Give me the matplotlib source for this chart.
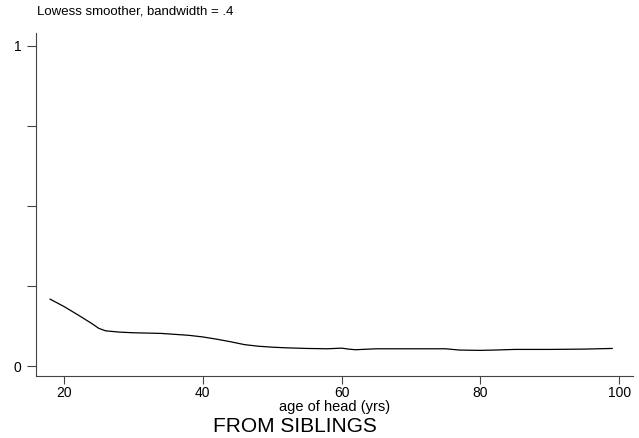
"""Lowess smoother of a share against age of household head, from siblings."""
import matplotlib
matplotlib.use("Agg")
import matplotlib.pyplot as plt

# values
age = [18, 20, 22, 24, 25, 26, 28, 30, 32, 34, 36, 38, 40, 42, 44, 46, 48, 50,
       52, 55, 58, 60, 61, 62, 63, 65, 70, 75, 77, 80, 82, 85, 90, 95, 99]
share = [0.209, 0.186, 0.160, 0.133, 0.118, 0.110, 0.106, 0.104, 0.103, 0.102,
         0.099, 0.096, 0.091, 0.084, 0.076, 0.067, 0.062, 0.059, 0.057, 0.055,
         0.054, 0.056, 0.053, 0.051, 0.052, 0.054, 0.054, 0.054, 0.050, 0.049,
         0.050, 0.052, 0.052, 0.053, 0.055]

xticks = [20, 40, 60, 80, 100]
yticks = [0, 0.25, 0.5, 0.75, 1]
ytick_labels = ["0", "", "", "", "1"]

plt.rcParams.update({"font.family": "Liberation Sans", "font.size": 10})

fig = plt.figure(figsize=(6.39, 4.38), dpi=100)
ax = fig.add_axes([36 / 639, 1 - 376 / 438, 597 / 639, 343 / 438])

ax.plot(age, share, color="black", linewidth=0.9)

ax.set_xlim(15.97, 102)
ax.set_ylim(-0.031, 1.04)
ax.set_xticks(xticks)
ax.set_yticks(yticks)
ax.set_yticklabels(ytick_labels)
ax.tick_params(axis="y", direction="out", length=6.5, width=0.8, color="#444444",
               labelsize=10, pad=4)
ax.tick_params(axis="x", direction="out", length=5.5, width=0.8, color="#444444",
               labelsize=10, pad=1.5)

for side in ("top", "right"):
    ax.spines[side].set_visible(False)
for side in ("left", "bottom"):
    ax.spines[side].set_color("#444444")
    ax.spines[side].set_linewidth(0.8)

ax.set_xlabel("age of head (yrs)", fontsize=10.5, labelpad=0.5)

fig.text(37 / 639, 1 - 12 / 438, "Lowess smoother, bandwidth = .4", fontsize=9.5,
         ha="left", va="center")
fig.text(295 / 639, 1 - 432 / 438, "FROM SIBLINGS", fontsize=15, ha="center",
         va="baseline")

fig.savefig("out.png", dpi=100)
plt.close(fig)
